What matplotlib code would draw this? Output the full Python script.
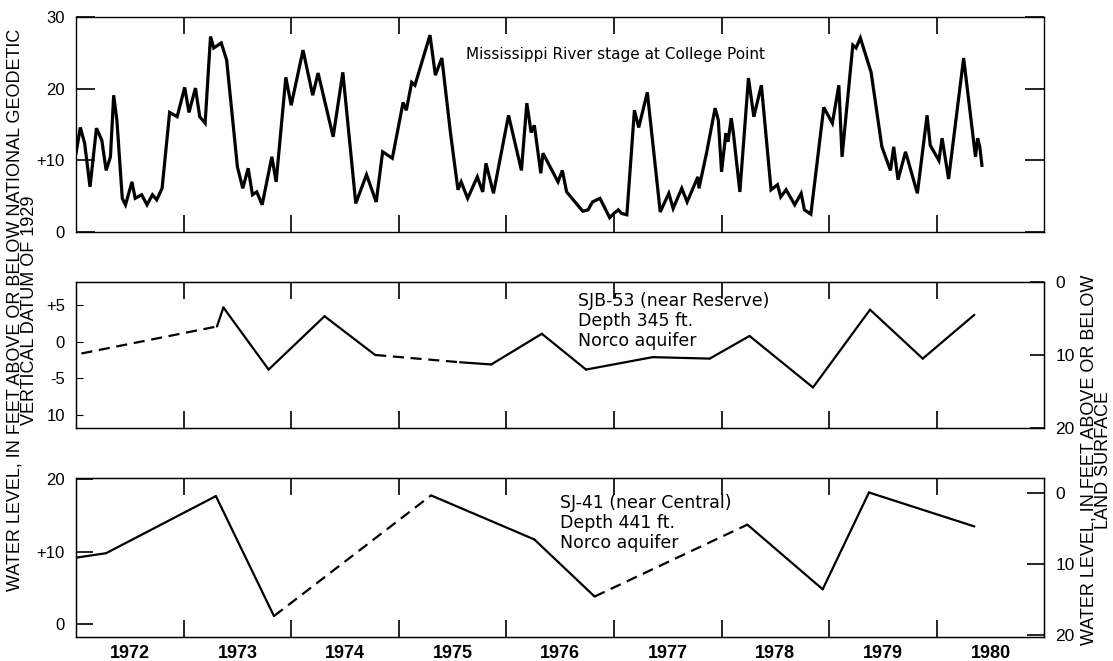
import numpy as np
import matplotlib
matplotlib.use("Agg")
import matplotlib.pyplot as plt
from matplotlib.ticker import FixedLocator, NullFormatter

plt.rcParams['font.family'] = ['Liberation Sans', 'DejaVu Sans']

# Mississippi River stage at College Point (ft, NGVD 1929)
river_t = [1972.00, 1972.04, 1972.08, 1972.13, 1972.19, 1972.24, 1972.28, 1972.32, 1972.35, 1972.38,
           1972.43, 1972.46, 1972.52, 1972.55, 1972.61, 1972.66, 1972.71, 1972.75, 1972.80, 1972.87,
           1972.94, 1973.01, 1973.05, 1973.11, 1973.15, 1973.20, 1973.25, 1973.28, 1973.35, 1973.40,
           1973.50, 1973.55, 1973.60, 1973.64, 1973.68, 1973.73, 1973.82, 1973.86, 1973.95, 1974.00,
           1974.11, 1974.20, 1974.25, 1974.39, 1974.48, 1974.60, 1974.70, 1974.79, 1974.85, 1974.94,
           1975.04, 1975.07, 1975.12, 1975.15, 1975.29, 1975.34, 1975.40, 1975.48, 1975.55, 1975.58,
           1975.64, 1975.73, 1975.78, 1975.81, 1975.88, 1976.02, 1976.14, 1976.19, 1976.23, 1976.26,
           1976.32, 1976.34, 1976.48, 1976.52, 1976.56, 1976.71, 1976.76, 1976.80, 1976.87, 1976.96,
           1977.00, 1977.04, 1977.07, 1977.12, 1977.19, 1977.23, 1977.31, 1977.43, 1977.51, 1977.55,
           1977.63, 1977.68, 1977.78, 1977.79, 1977.86, 1977.94, 1977.97, 1978.00, 1978.04, 1978.06,
           1978.09, 1978.11, 1978.17, 1978.25, 1978.30, 1978.37, 1978.46, 1978.52, 1978.55, 1978.60,
           1978.68, 1978.74, 1978.77, 1978.83, 1978.95, 1979.03, 1979.09, 1979.12, 1979.22, 1979.25,
           1979.29, 1979.39, 1979.49, 1979.57, 1979.60, 1979.64, 1979.71, 1979.82, 1979.91, 1979.94,
           1980.02, 1980.05, 1980.11, 1980.25, 1980.36, 1980.38, 1980.40, 1980.42]
river_stage = [11.0, 14.6, 12.4, 6.3, 14.5, 12.8, 8.6, 10.5, 19.1, 15.6,
               4.7, 3.8, 7.0, 4.7, 5.2, 3.8, 5.2, 4.5, 6.1, 16.7,
               16.1, 20.2, 16.7, 20.1, 16.1, 15.2, 27.3, 25.7, 26.4, 24.0,
               9.1, 6.1, 8.9, 5.2, 5.6, 3.8, 10.5, 7.0, 21.6, 17.7,
               25.4, 19.1, 22.2, 13.3, 22.3, 4.0, 8.0, 4.2, 11.2, 10.3,
               18.1, 17.0, 20.9, 20.5, 27.5, 21.9, 24.3, 13.9, 5.9, 7.0,
               4.7, 7.7, 5.6, 9.6, 5.4, 16.3, 8.6, 18.0, 13.9, 14.9,
               8.2, 11.0, 7.0, 8.6, 5.6, 2.9, 3.1, 4.2, 4.7, 2.0,
               2.6, 3.1, 2.6, 2.4, 17.0, 14.6, 19.5, 2.8, 5.4, 3.3,
               6.1, 4.2, 7.7, 6.1, 11.0, 17.3, 15.6, 8.4, 13.8, 12.6,
               15.9, 13.8, 5.6, 21.5, 16.1, 20.5, 5.9, 6.6, 4.9, 5.9,
               3.8, 5.4, 3.1, 2.5, 17.4, 15.2, 20.5, 10.5, 26.1, 25.7,
               27.1, 22.3, 11.9, 8.6, 11.9, 7.3, 11.2, 5.4, 16.3, 12.1,
               10.0, 13.1, 7.4, 24.3, 10.5, 13.1, 11.9, 9.3]

# SJB-53 (near Reserve), ft NGVD; dashed where record is missing
sjb_t = [1972.05, 1973.31, 1973.37, 1973.79, 1974.31, 1974.78, 1975.57, 1975.86,
         1976.33, 1976.74, 1977.36, 1977.89, 1978.26, 1978.85, 1979.38, 1979.87, 1980.35]
sjb_level = [-1.6, 2.1, 4.7, -3.8, 3.5, -1.8, -2.8, -3.1,
             1.1, -3.8, -2.1, -2.3, 0.8, -6.25, 4.4, -2.3, 3.7]
sjb_dashed = [(0, 1), (5, 6)]

# SJ-41 (near Central), ft NGVD
sj_t = [1972.01, 1972.28, 1973.30, 1973.84, 1975.30, 1976.26, 1976.82, 1978.24, 1978.94, 1979.37, 1980.35]
sj_level = [9.2, 9.8, 17.7, 1.1, 17.8, 11.7, 3.8, 13.75, 4.8, 18.2, 13.5]
sj_dashed = [(3, 4), (6, 7)]

years = list(range(1972, 1981))

fig = plt.figure(figsize=(11.13, 6.61), dpi=100)
ax1 = fig.add_axes([0.0683, 0.649, 0.870, 0.325])
ax2 = fig.add_axes([0.0683, 0.3525, 0.870, 0.221])
ax3 = fig.add_axes([0.0683, 0.0363, 0.870, 0.2405])

def draw_series(ax, t, v, dashed, lw):
    for i in range(len(t) - 1):
        ls = (0, (5, 3)) if (i, i + 1) in dashed else '-'
        ax.plot(t[i:i + 2], v[i:i + 2], color='black', lw=lw, ls=ls,
                solid_capstyle='round', dash_capstyle='butt')

ax1.plot(river_t, river_stage, color='black', lw=2.3, solid_joinstyle='miter')
draw_series(ax2, sjb_t, sjb_level, sjb_dashed, 1.6)
draw_series(ax3, sj_t, sj_level, sj_dashed, 1.6)

for ax in (ax1, ax2, ax3):
    ax.set_xlim(1972, 1981)
    ax.xaxis.set_major_locator(FixedLocator(years[1:]))
    ax.xaxis.set_major_formatter(NullFormatter())
    ax.tick_params(axis='x', which='major', direction='in', length=12, width=1.2,
                   top=True, bottom=True)
    for s in ax.spines.values():
        s.set_linewidth(1.0)

ax3.xaxis.set_minor_locator(FixedLocator([y + 0.5 for y in years]))
ax3.set_xticklabels([str(y) for y in years], minor=True)
ax3.tick_params(axis='x', which='minor', length=0, pad=6, labelsize=13)
for lab in ax3.get_xticklabels(minor=True):
    lab.set_fontweight('bold')

# top panel
ax1.set_ylim(0, 30)
ax1.set_yticks([0, 10, 20, 30])
ax1.set_yticklabels(['0', '+10', '20', '30'])
ax1.tick_params(axis='y', direction='in', length=14, width=1.2, right=True, labelsize=12, pad=8)
ax1.text(0.403, 0.828, 'Mississippi River stage at College Point', transform=ax1.transAxes,
         fontsize=11, va='center', ha='left', family='DejaVu Sans')

# middle panel
ax2.set_ylim(-11.8, 8.2)
ax2.set_yticks([5, 0, -5, -10])
ax2.set_yticklabels(['+5', '0', '-5', '10'])
ax2.tick_params(axis='y', direction='in', length=5, labelsize=12, pad=8)
r2 = ax2.twinx()
r2.set_ylim(20, 0)
r2.set_yticks([0, 10, 20])
r2.tick_params(axis='y', direction='in', length=10, width=1.2, labelsize=12.5, pad=8)
r2.set_xlim(1972, 1981)
ax2.text(0.5186, 0.93, 'SJB-53 (near Reserve)\nDepth 345 ft.\nNorco aquifer', transform=ax2.transAxes,
         fontsize=12.5, va='top', ha='left', linespacing=1.15, family='DejaVu Sans')

# bottom panel
ax3.set_ylim(-1.8, 20.2)
ax3.set_yticks([0, 10, 20])
ax3.set_yticklabels(['0', '+10', '20'])
ax3.tick_params(axis='y', direction='in', length=12, width=1.2, labelsize=12, pad=8)
r3 = ax3.twinx()
r3.set_ylim(20.3, -2.1)
r3.set_yticks([0, 10, 20])
r3.tick_params(axis='y', direction='in', length=12, width=1.2, labelsize=12.5, pad=8)
r3.set_xlim(1972, 1981)
ax3.text(0.50, 0.90, 'SJ-41 (near Central)\nDepth 441 ft.\nNorco aquifer', transform=ax3.transAxes,
         fontsize=12.5, va='top', ha='left', linespacing=1.15, family='DejaVu Sans')

fig.text(0.020, 0.531, 'WATER LEVEL, IN FEET ABOVE OR BELOW NATIONAL GEODETIC\nVERTICAL DATUM OF 1929',
         rotation=90, ha='center', va='center', fontsize=13, linespacing=0.85)
fig.text(0.985, 0.304, 'WATER LEVEL, IN FEET ABOVE OR BELOW\nLAND SURFACE',
         rotation=90, ha='center', va='center', fontsize=13, linespacing=0.85)

fig.savefig('out.png', dpi=100)
